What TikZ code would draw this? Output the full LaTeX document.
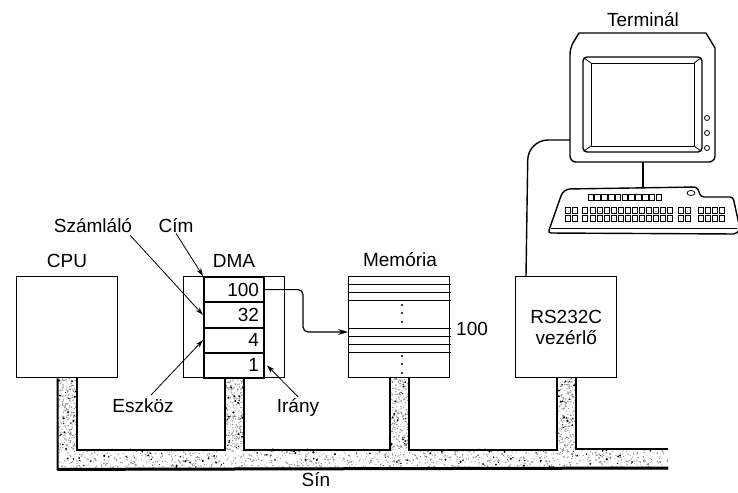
\documentclass[tikz,border=0pt]{standalone}
\usepackage{fontspec}
\setmainfont{Liberation Sans}
\usetikzlibrary{calc,arrows.meta}

\begin{document}
\begin{tikzpicture}
[x=1pt,y=-1pt,
  boxDecorate/.style={draw,line width=1.4pt,anchor=north west,inner sep=0pt,
    minimum width=101pt,minimum height=101pt,align=center,
    font=\fontsize{19}{21}\selectfont},
  regDecorate/.style={draw,line width=2pt,anchor=north west,inner xsep=5pt,
    inner ysep=0pt,text width=50pt,align=right,minimum height=25.25pt,
    font=\fontsize{19}{21}\selectfont},
  textDecorate/.style={anchor=base,inner sep=1pt,font=\fontsize{19}{21}\selectfont},
  pointerDecorate/.style={-{Stealth[length=8pt,width=5pt]},line width=0.8pt},
  busDecorate/.style={line width=2pt,line join=miter},
  termDecorate/.style={line width=1.4pt,line join=round}]
\useasboundingbox (0,0) rectangle (738,492);
%% units on the bus
\foreach \nodename/\x/\txt in {
  cpu/16/{}, dma/183/{}, mem/348/{}, rs/515/{RS232C\\vezérlő}}
{
  \node (\nodename) at (\x,276) [boxDecorate] {\txt};
}
%% DMA registers
\foreach \regname/\val/\i in {regA/100/0, regB/32/1, regC/4/2, regD/1/3}
{
  \node (\regname) at (203,276+25.25*\i) [regDecorate] {\val};
}
%% memory words
\foreach \y in {284,292,300,328,336,344,352}
  \draw[line width=1pt] (348,\y) -- (451,\y);
\foreach \y in {305,313,322,356,364,373}
  \fill (402,\y) circle (1.2);
%% labels
\foreach \nodename/\x/\y/\txt in {
  szamlalo/93/232/Számláló, cim/176/232/Cím,
  cpuLabel/67/267/CPU, dmaLabel/234/267/DMA, memLabel/400/266/Memória,
  termLabel/643/27/Terminál, eszkoz/143/412/Eszköz, irany/298/412/Irány,
  sin/316/486/Sín}
{
  \node (\nodename) at (\x,\y) [textDecorate] {\txt};
}
\node (memRow) at (455,335) [textDecorate,anchor=base west] {100};
%% pointers
\draw[pointerDecorate] ($(szamlalo.south east)+(-3,2)$) -- (regB.west);
\draw[pointerDecorate] (cim.south) -- (regA.north west);
\draw[pointerDecorate] ($(eszkoz.north)+(8,-2)$) -- (regC.west);
\draw[pointerDecorate] (irany.north) -- ($(regD.east)+(2,0)$);
\coordinate (row100) at (348,332);
\draw[line width=1.2pt,rounded corners=5pt,-{Stealth[length=10pt,width=6pt]}]
  (regA.east) -- ++(38,0) |- (row100);
%% bus
\pgfmathsetseed{7}
\foreach \i in {1,...,1100}
  \fill[black!45] (57+611*rnd,449+19*rnd) circle (0.3+0.6*rnd);
\foreach \i in {1,...,120}
  \fill[black] (57+611*rnd,449+19*rnd) circle (0.4+0.8*rnd);
\foreach \b in {cpu,dma,mem,rs}
{
  \foreach \i in {1,...,240}
    \fill[black!45] ($(\b.south)+(-9.5+19*rnd,72*rnd)$) circle (0.3+0.6*rnd);
  \foreach \i in {1,...,25}
    \fill[black] ($(\b.south)+(-9.5+19*rnd,72*rnd)$) circle (0.4+0.8*rnd);
}
\draw[busDecorate] ($(cpu.south)+(-9.5,0)$) -- ($(cpu.south)+(-9.5,91)$) -- (668,468);
\draw[line width=3pt] ($(cpu.south)+(-9.5,91)$) -- (668,468);
\foreach \a/\b in {cpu/dma, dma/mem, mem/rs}
  \draw[busDecorate] ($(\a.south)+(9.5,0)$) |- ($(\b.south)+(-9.5,72)$)
    -- ($(\b.south)+(-9.5,0)$);
\draw[busDecorate] ($(rs.south)+(9.5,0)$) |- (668,449);
%% terminal
\draw[termDecorate] (570,48) -- (579,33) -- (706,33) -- (715,48)
  [rounded corners=6pt] -- (715,162) -- (570,162) -- cycle;
\draw[termDecorate,rounded corners=4pt] (583,57) rectangle (702,152);
\draw[line width=0.8pt] (591,63) rectangle (694,146);
\draw[line width=0.8pt] (584,58) -- (591,63) (701,58) -- (694,63)
  (584,151) -- (591,146) (701,151) -- (694,146);
\foreach \y in {118,133,148}
  \draw[line width=0.8pt] (707,\y) circle (2.5);
\coordinate (monBase) at (643,162);
\coordinate (kbTop) at (643,188);
\draw[termDecorate] (monBase) -- (kbTop);
%% keyboard
\draw[termDecorate,rounded corners=3pt] (548,233) -- (562,193) -- (567,189)
  -- (697,187) -- (701,197) -- (733,197) -- (740,229) -- (736,234) -- cycle;
\draw[line width=0.8pt] (551,228) -- (737,228);
\foreach \i in {0,...,10}
  \draw[line width=0.7pt] (588+6.8*\i,194) rectangle ++(5.5,6);
\draw[line width=0.8pt] (691,193) ellipse (4 and 2.5);
\foreach \x/\n in {565/2, 582/1, 590/12, 678/2, 698/4}
  \foreach \i in {1,...,\n}
    \foreach \y in {207,215}
      \draw[line width=0.7pt] (\x+7*\i-7,\y) rectangle ++(5.5,6.5);
%% cable to the controller
\coordinate (monLeft) at (570,140);
\coordinate (rsTop) at ($(rs.north west)+(11,0)$);
\draw[termDecorate,rounded corners=20pt] (monLeft) -- (528,140) -- (rsTop);
\end{tikzpicture}
\end{document}
